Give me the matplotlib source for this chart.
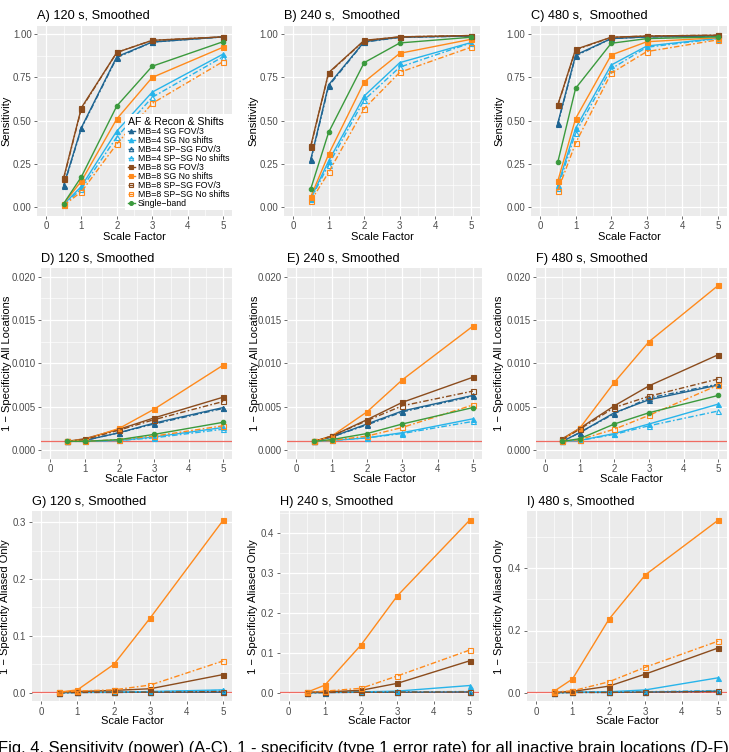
import matplotlib
matplotlib.use("Agg")
import matplotlib.pyplot as plt
from matplotlib.lines import Line2D

plt.rcParams['font.family'] = ['Liberation Sans', 'DejaVu Sans']

# ---------------- data ----------------
scale_factor = [0.5, 1, 2, 3, 5]

series_labels = [
    "MB=4 SG FOV/3", "MB=4 SG No shifts",
    "MB=4 SP\u2212SG FOV/3", "MB=4 SP\u2212SG No shifts",
    "MB=8 SG FOV/3", "MB=8 SG No shifts",
    "MB=8 SP\u2212SG FOV/3", "MB=8 SP\u2212SG No shifts",
    "Single\u2212band",
]

# Sensitivity (rows follow series_labels)
sens_120 = [
    [0.125, 0.46, 0.87, 0.955, 0.985],
    [0.015, 0.12, 0.44, 0.665, 0.885],
    [0.12, 0.455, 0.865, 0.955, 0.985],
    [0.012, 0.105, 0.405, 0.635, 0.87],
    [0.17, 0.575, 0.895, 0.965, 0.985],
    [0.02, 0.15, 0.51, 0.75, 0.925],
    [0.165, 0.57, 0.895, 0.965, 0.985],
    [0.01, 0.088, 0.365, 0.60, 0.842],
    [0.02, 0.175, 0.585, 0.815, 0.957],
]
sens_240 = [
    [0.276, 0.707, 0.957, 0.983, 0.99],
    [0.05, 0.266, 0.643, 0.836, 0.952],
    [0.27, 0.70, 0.955, 0.982, 0.99],
    [0.045, 0.245, 0.62, 0.81, 0.95],
    [0.355, 0.778, 0.965, 0.985, 0.993],
    [0.06, 0.305, 0.724, 0.89, 0.971],
    [0.35, 0.775, 0.963, 0.985, 0.993],
    [0.035, 0.20, 0.57, 0.78, 0.925],
    [0.106, 0.432, 0.836, 0.95, 0.983],
]
sens_480 = [
    [0.485, 0.88, 0.975, 0.985, 0.99],
    [0.125, 0.456, 0.822, 0.932, 0.977],
    [0.48, 0.875, 0.975, 0.985, 0.99],
    [0.11, 0.43, 0.80, 0.925, 0.975],
    [0.591, 0.913, 0.983, 0.99, 0.995],
    [0.15, 0.512, 0.88, 0.957, 0.98],
    [0.588, 0.91, 0.982, 0.99, 0.995],
    [0.095, 0.37, 0.775, 0.90, 0.968],
    [0.26, 0.687, 0.948, 0.975, 0.985],
]

# 1 - specificity, all inactive locations
fpr_all_120 = [
    [0.001, 0.0011, 0.0020, 0.0031, 0.0049],
    [0.001, 0.0010, 0.0011, 0.0015, 0.0026],
    [0.001, 0.0011, 0.0020, 0.0030, 0.0048],
    [0.001, 0.0010, 0.0011, 0.0014, 0.0024],
    [0.001, 0.0013, 0.0024, 0.0037, 0.0061],
    [0.001, 0.0012, 0.0025, 0.0047, 0.0098],
    [0.001, 0.0012, 0.0023, 0.0035, 0.0056],
    [0.001, 0.0010, 0.0012, 0.0016, 0.0028],
    [0.001, 0.0010, 0.0012, 0.0018, 0.0032],
]
fpr_all_240 = [
    [0.001, 0.0015, 0.0030, 0.0045, 0.0063],
    [0.001, 0.0011, 0.0014, 0.0020, 0.0036],
    [0.001, 0.0015, 0.0029, 0.0044, 0.0062],
    [0.001, 0.0011, 0.0014, 0.0019, 0.0033],
    [0.001, 0.0016, 0.0035, 0.0055, 0.0084],
    [0.001, 0.0016, 0.0044, 0.0081, 0.0143],
    [0.001, 0.0016, 0.0034, 0.0051, 0.0068],
    [0.001, 0.0011, 0.0016, 0.0026, 0.0052],
    [0.001, 0.0012, 0.0019, 0.0030, 0.0049],
]
fpr_all_480 = [
    [0.001, 0.0020, 0.0043, 0.0058, 0.0075],
    [0.001, 0.0011, 0.0019, 0.0030, 0.0053],
    [0.001, 0.0020, 0.0042, 0.0060, 0.0076],
    [0.001, 0.0011, 0.0018, 0.0028, 0.0045],
    [0.0013, 0.0025, 0.0051, 0.0074, 0.0110],
    [0.0012, 0.0025, 0.0078, 0.0125, 0.0190],
    [0.0012, 0.0024, 0.0049, 0.0062, 0.0082],
    [0.001, 0.0012, 0.0024, 0.0040, 0.0075],
    [0.001, 0.0013, 0.0030, 0.0043, 0.0063],
]

# 1 - specificity, aliased locations only (no single-band row)
fpr_alias_120 = [
    [0.0, 0.0005, 0.0005, 0.001, 0.001],
    [0.0, 0.0005, 0.001, 0.002, 0.005],
    [0.0, 0.0005, 0.0005, 0.0008, 0.001],
    [0.0, 0.0005, 0.001, 0.0018, 0.004],
    [0.001, 0.002, 0.004, 0.007, 0.032],
    [0.001, 0.005, 0.050, 0.132, 0.304],
    [0.0, 0.0005, 0.001, 0.001, 0.002],
    [0.001, 0.003, 0.005, 0.0135, 0.056],
    None,
]
fpr_alias_240 = [
    [0.0, 0.0005, 0.001, 0.001, 0.002],
    [0.0, 0.001, 0.002, 0.004, 0.018],
    [0.0, 0.0005, 0.001, 0.001, 0.002],
    [0.0, 0.001, 0.0015, 0.002, 0.003],
    [0.001, 0.002, 0.006, 0.0235, 0.080],
    [0.001, 0.019, 0.120, 0.243, 0.433],
    [0.0, 0.001, 0.001, 0.0015, 0.002],
    [0.001, 0.004, 0.011, 0.042, 0.107],
    None,
]
fpr_alias_480 = [
    [0.0, 0.001, 0.001, 0.002, 0.005],
    [0.0, 0.001, 0.003, 0.009, 0.048],
    [0.0, 0.001, 0.001, 0.002, 0.004],
    [0.0, 0.001, 0.002, 0.003, 0.007],
    [0.001, 0.004, 0.021, 0.060, 0.144],
    [0.005, 0.044, 0.236, 0.379, 0.555],
    [0.0, 0.001, 0.001, 0.002, 0.004],
    [0.002, 0.006, 0.035, 0.082, 0.166],
    None,
]

nominal_rate = 0.001

panel_titles = [
    "A) 120 s, Smoothed", "B) 240 s,  Smoothed", "C) 480 s,  Smoothed",
    "D) 120 s, Smoothed", "E) 240 s, Smoothed", "F) 480 s, Smoothed",
    "G) 120 s, Smoothed", "H) 240 s, Smoothed", "I) 480 s, Smoothed",
]
row_ylabels = ["Sensitivity", "1 \u2212 Specificity All Locations",
               "1 \u2212 Specificity Aliased Only"]
x_ticks = [0, 1, 2, 3, 4, 5]
caption = ("Fig. 4. Sensitivity (power) (A-C). 1 - specificity (type 1 error rate) "
           "for all inactive brain locations (D-F).")

# ---------------- styles ----------------
DKBLUE = '#1f6592'
LTBLUE = '#27b4ea'
BROWN = '#8b4c1d'
ORANGE = '#ff8a1c'
GREEN = '#3b9a3d'
series_colors = [DKBLUE, LTBLUE, DKBLUE, LTBLUE, BROWN, ORANGE, BROWN, ORANGE, GREEN]
series_markers = ['^', '^', '^', '^', 's', 's', 's', 's', 'o']
series_filled = [True, True, False, False, True, True, False, False, True]
series_dashed = [False, False, True, True, False, False, True, True, False]
DASH = (0, (4.0, 1.6, 1.2, 1.6))

W, H = 729, 752
fig = plt.figure(figsize=(W / 100, H / 100), dpi=100)
XLIM = (-0.25, 5.25)

def make_axes(x0_px, x5_px, yv_lo, py_lo, yv_hi, py_hi, ylim):
    ppx = (x5_px - x0_px) / 5.0
    left = x0_px + XLIM[0] * ppx
    width = (XLIM[1] - XLIM[0]) * ppx
    ppy = (py_lo - py_hi) / (yv_hi - yv_lo)
    top = py_hi - (ylim[1] - yv_hi) * ppy
    height = (ylim[1] - ylim[0]) * ppy
    ax = fig.add_axes([left / W, 1 - (top + height) / H, width / W, height / H])
    ax.set_xlim(*XLIM)
    ax.set_ylim(*ylim)
    return ax, left, top, width, height

rows = [
    dict(data=[sens_120, sens_240, sens_480],
         x0=[46, 293, 540], x5=[223, 471, 718],
         yl=(0.0, 207.0), yh=(1.0, 34.3), ylim=(-0.05, 1.05),
         yticks=[0, 0.25, 0.5, 0.75, 1.0], fmt='{:.2f}', xlab_y=237, ylab_x=[6, 253, 499],
         hline=False),
    dict(data=[fpr_all_120, fpr_all_240, fpr_all_480],
         x0=[50, 296.3, 545], x5=[223.3, 473, 718.3],
         yl=(0.0, 450.0), yh=(0.02, 276.7), ylim=(-0.001, 0.021),
         yticks=[0, 0.005, 0.01, 0.015, 0.02], fmt='{:.3f}', xlab_y=479, ylab_x=[7, 255, 499],
         hline=True),
    dict(data=[fpr_alias_120, fpr_alias_240, fpr_alias_480],
         x0=[41, 288.7, 536], x5=[223.3, 469.7, 718.3],
         yl=(0.0, 692.7), yh=[(0.3, 522.3), (0.4, 533.3), (0.4, 568.3)],
         ylim=[(-0.0153, 0.320), (-0.0217, 0.455), (-0.0278, 0.583)],
         yticks=[[0, 0.1, 0.2, 0.3], [0, 0.1, 0.2, 0.3, 0.4], [0, 0.2, 0.4]],
         fmt='{:.1f}', xlab_y=721, ylab_x=[5, 253, 499],
         hline=True),
]

axes_list = []
k = 0
for r, row in enumerate(rows):
    for c in range(3):
        yh = row['yh'][c] if isinstance(row['yh'], list) else row['yh']
        ylim = row['ylim'][c] if isinstance(row['ylim'], list) else row['ylim']
        yt = row['yticks'][c] if isinstance(row['yticks'][0], list) else row['yticks']
        ax, left, top, width, height = make_axes(row['x0'][c], row['x5'][c],
                                                 row['yl'][0], row['yl'][1], yh[0], yh[1], ylim)
        ax.set_facecolor('#EBEBEB')
        for s in ax.spines.values():
            s.set_visible(False)
        ax.set_xticks(x_ticks)
        ax.set_xticks([v + 0.5 for v in x_ticks[:-1]], minor=True)
        ax.set_yticks(yt)
        ax.set_yticklabels([row['fmt'].format(v) for v in yt])
        step = yt[1] - yt[0]
        minors = [(yt[i] + yt[i + 1]) / 2 for i in range(len(yt) - 1)]
        if yt[-1] + step / 2 < ylim[1]:
            minors.append(yt[-1] + step / 2)
        ax.set_yticks(minors, minor=True)
        ax.grid(which='major', color='white', lw=0.9)
        ax.grid(which='minor', color='white', lw=0.45)
        ax.set_axisbelow(True)
        ax.tick_params(which='major', length=2.5, width=0.5, color='#333333',
                       labelsize=7, labelcolor='#4D4D4D', pad=1.5)
        ax.tick_params(which='minor', length=0)

        if row['hline']:
            ax.axhline(nominal_rate, color='#ef6b62', lw=0.9, zorder=1.5)

        data = row['data'][c]
        for i, vals in enumerate(data):
            if vals is None:
                continue
            col = series_colors[i]
            ax.plot(scale_factor, vals, color=col, lw=1.0,
                    ls=DASH if series_dashed[i] else '-',
                    marker=series_markers[i],
                    ms=3.6 if series_markers[i] != 'o' else 3.2,
                    mfc=col if series_filled[i] else 'none',
                    mec=col, mew=0.8, zorder=2 + i * 0.01)

        ax.set_title(panel_titles[k], loc='left', fontsize=9.2, color='black', pad=4.5)
        fig.text(row['ylab_x'][c] / W, 1 - (top + height / 2) / H, row_ylabels[r],
                 rotation=90, ha='center', va='center', fontsize=8, color='black')
        fig.text((left + width / 2) / W, 1 - row['xlab_y'] / H, "Scale Factor",
                 ha='center', va='center', fontsize=8, color='black')
        axes_list.append(ax)
        k += 1

# legend in panel A
handles = []
for i, lab in enumerate(series_labels):
    col = series_colors[i]
    handles.append(Line2D([], [], color=col, lw=1.0,
                          ls=DASH if series_dashed[i] else '-',
                          marker=series_markers[i],
                          ms=3.2 if series_markers[i] != 'o' else 2.8,
                          mfc=col if series_filled[i] else 'none', mec=col, mew=0.8))
leg = axes_list[0].legend(handles, series_labels, title="AF & Recon & Shifts",
                          loc='upper left', bbox_to_anchor=(125 / W, 1 - 114 / H),
                          bbox_transform=fig.transFigure,
                          fontsize=6.3, title_fontsize=7.6, frameon=True, fancybox=False,
                          framealpha=1.0, edgecolor='white', borderpad=0.3,
                          labelspacing=0.0, handlelength=0.8, handletextpad=0.35,
                          borderaxespad=0, alignment='left')
leg.get_frame().set_linewidth(0)

# caption (cut by the bottom edge, as in the source page)
cap = fig.text(-2 / W, -1.5 / H, caption, ha='left', va='baseline', fontsize=10, color='black')
fig.canvas.draw()
bb = cap.get_window_extent()
cap.set_fontsize(10 * 733 / bb.width)

fig.savefig('out.png', dpi=100)
